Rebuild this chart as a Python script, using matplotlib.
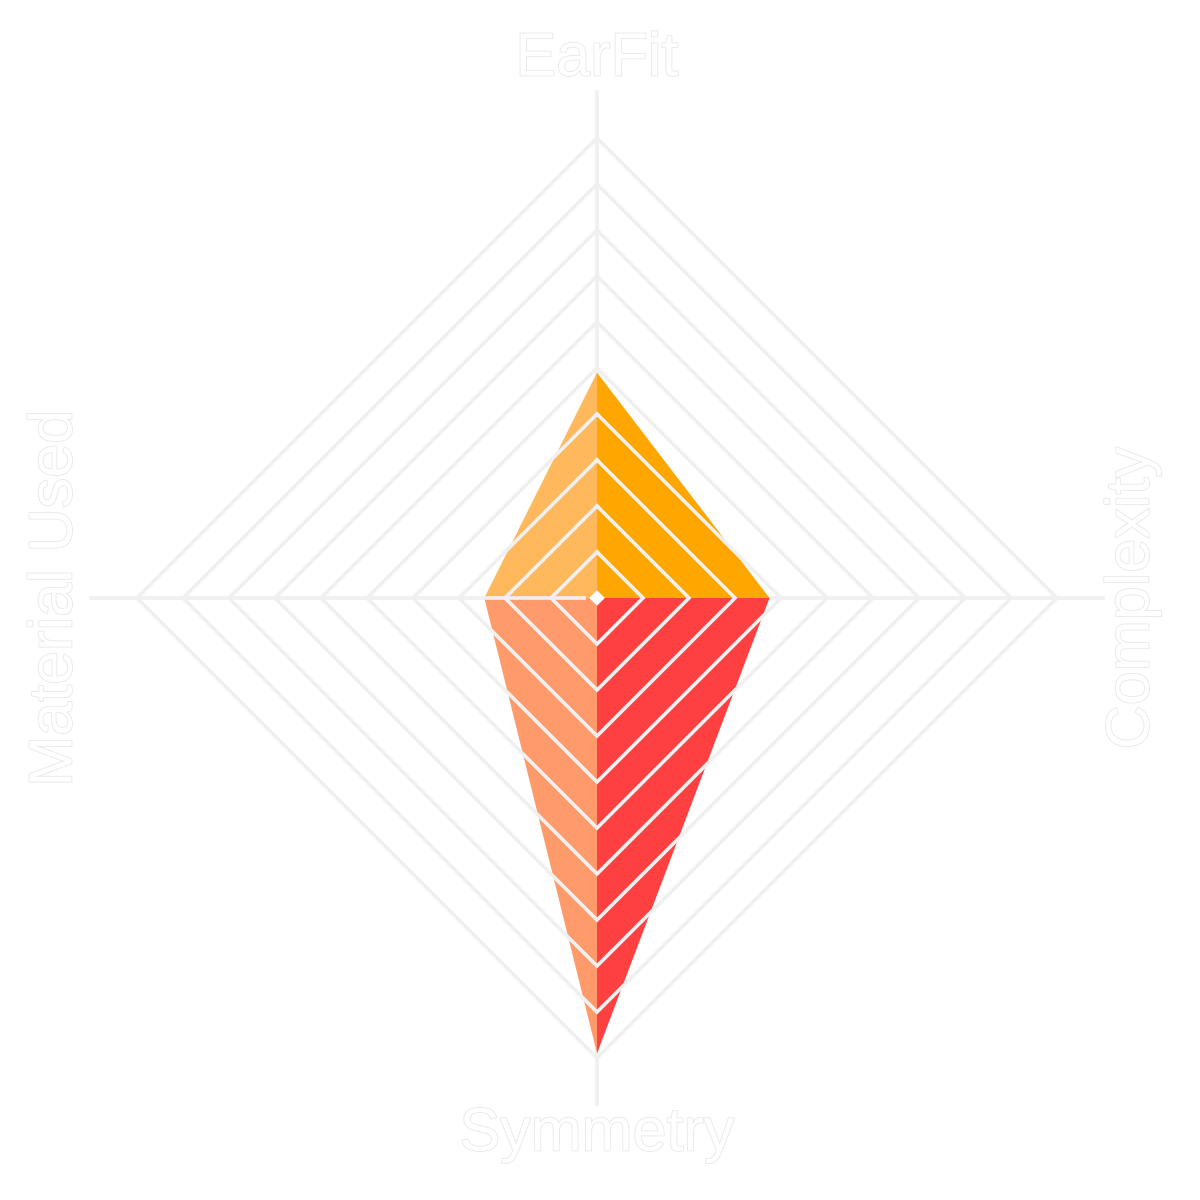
import numpy as np
import matplotlib.pyplot as plt
import matplotlib.patheffects as pe

# data
categories = ['EarFit', 'Complexity', 'Symmetry', 'Material Used']
values = [4.9, 3.75, 9.9, 2.45]
levels = [1, 2, 3, 4, 5, 6, 7, 8, 9, 10]
quad_colors = ['#FFA600', '#FF4040', '#FF9B6B', '#FFB95C']  # EarFit->Complexity, ... clockwise

grid_color = '#f0f0f0'

# angles: top, right, bottom, left (clockwise)
angles = np.array([90, 0, -90, 180]) * np.pi / 180
dx = np.round(np.cos(angles), 6)
dy = np.round(np.sin(angles), 6)

fig = plt.figure(figsize=(12, 12), dpi=100)
ax = fig.add_axes([0, 0, 1, 1])
unit = 46.0
ax.set_xlim(-597 / unit, 603 / unit)
ax.set_ylim(-602 / unit, 598 / unit)
ax.set_aspect('equal')
ax.axis('off')

# spokes
spoke_len = 11.0
for i in range(4):
    ax.plot([0, dx[i] * spoke_len], [0, dy[i] * spoke_len], color=grid_color, lw=2.6, zorder=1)

# filled quadrants, one triangle between each pair of neighbouring axes
for i in range(4):
    j = (i + 1) % 4
    xs = [0, dx[i] * values[i], dx[j] * values[j]]
    ys = [0, dy[i] * values[i], dy[j] * values[j]]
    ax.fill(xs, ys, color=quad_colors[i], lw=0, zorder=2)

# diamond grid on top
for lv in levels:
    gx = list(dx * lv) + [dx[0] * lv]
    gy = list(dy * lv) + [dy[0] * lv]
    ax.plot(gx, gy, color=grid_color, lw=2.6, zorder=3, solid_joinstyle='miter')

# left spoke shows through the fill
ax.plot([-values[3], -0.28], [0, 0], color=grid_color, lw=2.6, zorder=3)

# centre marker
r0 = 0.17
ax.fill([0, r0, 0, -r0], [r0, 0, -r0, 0], color='white', lw=0, zorder=4)

# labels
stroke = [pe.withStroke(linewidth=1.2, foreground='#e8e8e8')]
label_kw = dict(fontsize=44, color='white', family='Liberation Sans',
                ha='center', va='center', path_effects=stroke, zorder=5)
ax.text(0, 538 / unit, categories[0], **label_kw)
ax.text(536 / unit, 0, categories[1], rotation=90, **label_kw)
ax.text(0, -537 / unit, categories[2], **label_kw)
ax.text(-541 / unit, 0, categories[3], rotation=90, **label_kw)

plt.savefig('out.png', dpi=100, facecolor='white')
